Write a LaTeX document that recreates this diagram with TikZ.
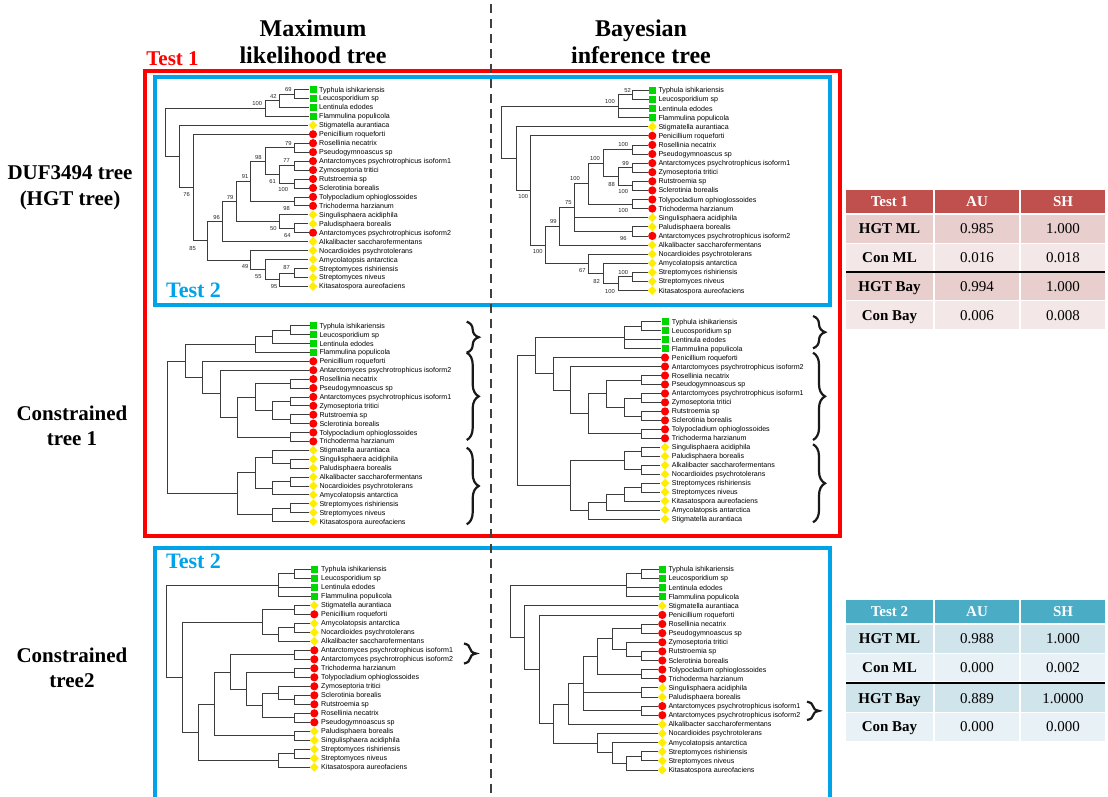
\documentclass[tikz,border=0pt]{standalone}
\usepackage{fontspec}
\setmainfont{Liberation Serif}
\newfontfamily\arialf{Liberation Sans}
\usetikzlibrary{shapes.geometric,decorations.pathreplacing}
\definecolor{tgreen}{RGB}{0,215,0}
\definecolor{tred}{RGB}{255,0,0}
\definecolor{tyellow}{RGB}{255,238,0}
\definecolor{bxred}{RGB}{255,0,0}
\definecolor{bxblue}{RGB}{0,162,232}
\definecolor{hdred}{RGB}{192,80,77}
\definecolor{rowra}{RGB}{232,206,205}
\definecolor{rowrb}{RGB}{243,231,231}
\definecolor{hdblue}{RGB}{75,172,198}
\definecolor{rowba}{RGB}{208,228,236}
\definecolor{rowbb}{RGB}{232,242,246}
\definecolor{brc}{RGB}{60,60,60}
\newcommand\mkX{0}
\newcommand\txX{0}
\newcommand\Lf[4]{\node[#3] (#1m) at (\mkX,#2) {};\coordinate (#1) at (#1m.west);\node[lbl] (#1t) at (\txX,#2) {#4};}
\newcommand\Nd[4]{\coordinate (#1) at (#2,#3);\foreach \ch in {#4}{\draw[br] (#1) |- (\ch);}}
\begin{document}
\begin{tikzpicture}[x=1pt,y=-1pt,
  br/.style={draw=brc, line width=0.75pt},
  lbl/.style={font=\arialf\fontsize{7.1}{8}\selectfont, anchor=base west, inner sep=0pt, yshift=-2.5pt, text=black},
  gsq/.style={rectangle, fill=tgreen, minimum size=7pt, inner sep=0pt},
  rdot/.style={circle, fill=tred, minimum size=8.2pt, inner sep=0pt},
  ydia/.style={diamond, aspect=1, fill=tyellow, minimum size=9pt, inner sep=0pt},
  bs/.style={font=\arialf\fontsize{5.8}{6}\selectfont, inner sep=0pt, text=black!85},
  cbrace/.style={decorate, decoration={brace, amplitude=12pt}, line width=2.2pt, draw=black!90},
  hdr/.style={font=\bfseries\fontsize{24}{26}\selectfont, inner sep=0pt, anchor=base},
  side/.style={font=\bfseries\fontsize{21}{23}\selectfont, inner sep=0pt, anchor=base},
  cell/.style={inner sep=0pt, text height=10pt, text depth=0pt, font=\fontsize{15}{17}\selectfont},
  hcell/.style={cell, font=\bfseries\fontsize{15}{17}\selectfont, text=white},
  bcell/.style={cell, font=\bfseries\fontsize{15}{17}\selectfont}
]
\useasboundingbox (0,0) rectangle (1108,796);
\clip (0,0) rectangle (1108,796);
\fill[white] (0,0) rectangle (1108,796);

% headers
\node[hdr] (hml1) at (313,36) {Maximum};
\node[hdr] (hml2) at (313,63) {likelihood tree};
\node[hdr] (hby1) at (641,36) {Bayesian};
\node[hdr] (hby2) at (641,63) {inference tree};
\node[side] (ls1) at (70,179) {DUF3494 tree};
\node[side] (ls2) at (70,205) {(HGT tree)};
\node[side] (ls3) at (72,420) {Constrained};
\node[side] (ls4) at (72,445) {tree 1};
\node[side] (ls5) at (72,662) {Constrained};
\node[side] (ls6) at (72,687) {tree2};

% boxes
\draw[bxred, line width=4pt] (145,71) rectangle (840,536);
\draw[bxblue, line width=4pt] (155,76.5) rectangle (830,305);
\draw[bxblue, line width=4pt] (155,548) rectangle (830,812);
\node[side, text=bxred] (t1) at (172.5,65) {Test 1};
\node[side, text=bxblue, font=\bfseries\fontsize{22}{24}\selectfont] (t2a) at (193.5,297) {Test 2};
\node[side, text=bxblue, font=\bfseries\fontsize{22}{24}\selectfont] (t2b) at (193.5,568) {Test 2};

% dashed divider
\draw[black!75, line width=1.4pt, dash pattern=on 9pt off 6pt] (491,4) -- (491,796);

% ---------- Tree A: ML DUF3494 ----------
\begin{scope}[y=-8.95pt, shift={(0pt,-89.5pt)}]
\renewcommand\mkX{313}\renewcommand\txX{319}
\Lf{a0}{0}{gsq}{Typhula ishikariensis}
\Lf{a1}{1}{gsq}{Leucosporidium sp}
\Lf{a2}{2}{gsq}{Lentinula edodes}
\Lf{a3}{3}{gsq}{Flammulina populicola}
\Lf{a4}{4}{ydia}{Stigmatella aurantiaca}
\Lf{a5}{5}{rdot}{Penicillium roqueforti}
\Lf{a6}{6}{rdot}{Rosellinia necatrix}
\Lf{a7}{7}{rdot}{Pseudogymnoascus sp}
\Lf{a8}{8}{rdot}{Antarctomyces psychrotrophicus isoform1}
\Lf{a9}{9}{rdot}{Zymoseptoria tritici}
\Lf{a10}{10}{rdot}{Rutstroemia sp}
\Lf{a11}{11}{rdot}{Sclerotinia borealis}
\Lf{a12}{12}{rdot}{Tolypocladium ophioglossoides}
\Lf{a13}{13}{rdot}{Trichoderma harzianum}
\Lf{a14}{14}{ydia}{Singulisphaera acidiphila}
\Lf{a15}{15}{ydia}{Paludisphaera borealis}
\Lf{a16}{16}{rdot}{Antarctomyces psychrotrophicus isoform2}
\Lf{a17}{17}{ydia}{Alkalibacter saccharofermentans}
\Lf{a18}{18}{ydia}{Nocardioides psychrotolerans}
\Lf{a19}{19}{ydia}{Amycolatopsis antarctica}
\Lf{a20}{20}{ydia}{Streptomyces rishiriensis}
\Lf{a21}{21}{ydia}{Streptomyces niveus}
\Lf{a22}{22}{ydia}{Kitasatospora aureofaciens}
\Nd{aA}{294}{0.5}{a0,a1}
\Nd{aB}{279.5}{1.25}{aA,a2}
\Nd{aF}{265}{2.125}{aB,a3}
\Nd{aC}{294}{6.5}{a6,a7}
\Nd{aD}{294}{8.5}{a8,a9}
\Nd{aE}{294}{10.5}{a10,a11}
\Nd{aG}{279.5}{9.5}{aD,aE}
\Nd{aH}{265}{8}{aC,aG}
\Nd{aI}{294}{12.5}{a12,a13}
\Nd{aJ}{250.7}{10.25}{aH,aI}
\Nd{aK}{294}{15.5}{a15,a16}
\Nd{aL}{279.5}{14.75}{a14,aK}
\Nd{aM}{236.5}{12.5}{aJ,aL}
\Nd{aN}{222}{14.75}{aM,a17}
\Nd{aO}{294}{20.5}{a20,a21}
\Nd{aP}{279.5}{21.25}{aO,a22}
\Nd{aQ}{265}{20.125}{a19,aP}
\Nd{aR}{250.7}{19.0625}{a18,aQ}
\Nd{aS}{207.8}{16.906}{aN,aR}
\Nd{aT}{193.5}{10.953}{a5,aS}
\Nd{aU}{179.3}{7.477}{a4,aT}
\Nd{aV}{165}{4.801}{aF,aU}
\end{scope}
\node[bs] (sa1) at (288.3,89.7) {69};
\node[bs] (sa2) at (273.3,96.3) {42};
\node[bs] (sa3) at (257.3,103) {100};
\node[bs] (sa4) at (288.3,143) {79};
\node[bs] (sa5) at (286.7,160.7) {77};
\node[bs] (sa6) at (258.3,157) {98};
\node[bs] (sa7) at (245,176.3) {91};
\node[bs] (sa8) at (272.7,181.3) {61};
\node[bs] (sa9) at (283.3,189) {100};
\node[bs] (sa10) at (186.7,194.3) {76};
\node[bs] (sa11) at (230,197.7) {79};
\node[bs] (sa12) at (286.7,208.3) {98};
\node[bs] (sa13) at (216.7,217.3) {96};
\node[bs] (sa14) at (273.3,228.3) {50};
\node[bs] (sa15) at (287.3,235.7) {64};
\node[bs] (sa16) at (192.7,248.3) {85};
\node[bs] (sa17) at (245,266.7) {49};
\node[bs] (sa18) at (258.3,276.7) {55};
\node[bs] (sa19) at (286.7,267.7) {87};
\node[bs] (sa20) at (274,286.7) {95};

% ---------- Tree B: Bayesian DUF3494 ----------
\begin{scope}[y=-9.1pt, shift={(0pt,-90.3pt)}]
\renewcommand\mkX{652.3}\renewcommand\txX{658.3}
\Lf{b0}{0}{gsq}{Typhula ishikariensis}
\Lf{b1}{1}{gsq}{Leucosporidium sp}
\Lf{b2}{2}{gsq}{Lentinula edodes}
\Lf{b3}{3}{gsq}{Flammulina populicola}
\Lf{b4}{4}{ydia}{Stigmatella aurantiaca}
\Lf{b5}{5}{rdot}{Penicillium roqueforti}
\Lf{b6}{6}{rdot}{Rosellinia necatrix}
\Lf{b7}{7}{rdot}{Pseudogymnoascus sp}
\Lf{b8}{8}{rdot}{Antarctomyces psychrotrophicus isoform1}
\Lf{b9}{9}{rdot}{Zymoseptoria tritici}
\Lf{b10}{10}{rdot}{Rutstroemia sp}
\Lf{b11}{11}{rdot}{Sclerotinia borealis}
\Lf{b12}{12}{rdot}{Tolypocladium ophioglossoides}
\Lf{b13}{13}{rdot}{Trichoderma harzianum}
\Lf{b14}{14}{ydia}{Singulisphaera acidiphila}
\Lf{b15}{15}{ydia}{Paludisphaera borealis}
\Lf{b16}{16}{rdot}{Antarctomyces psychrotrophicus isoform2}
\Lf{b17}{17}{ydia}{Alkalibacter saccharofermentans}
\Lf{b18}{18}{ydia}{Nocardioides psychrotolerans}
\Lf{b19}{19}{ydia}{Amycolatopsis antarctica}
\Lf{b20}{20}{ydia}{Streptomyces rishiriensis}
\Lf{b21}{21}{ydia}{Streptomyces niveus}
\Lf{b22}{22}{ydia}{Kitasatospora aureofaciens}
\Nd{bA}{632}{0.5}{b0,b1}
\Nd{bF}{618}{1.75}{bA,b2,b3}
\Nd{bC}{632}{6.5}{b6,b7}
\Nd{bD}{632}{8.5}{b8,b9}
\Nd{bE}{632}{10.5}{b10,b11}
\Nd{bG}{618}{9.5}{bD,bE}
\Nd{bH}{603.5}{8}{bC,bG}
\Nd{bI}{632}{12.5}{b12,b13}
\Nd{bJ}{588.5}{10.25}{bH,bI}
\Nd{bK}{632}{15.5}{b15,b16}
\Nd{bL}{574}{12.875}{bJ,b14,bK}
\Nd{bM}{559.5}{14.9375}{bL,b17}
\Nd{bO}{632}{20.5}{b20,b21}
\Nd{bP}{618}{21.25}{bO,b22}
\Nd{bQ}{603.5}{20.125}{b19,bP}
\Nd{bR}{588.5}{19.0625}{b18,bQ}
\Nd{bS}{545}{17}{bM,bR}
\Nd{bT}{530.5}{11}{b5,bS}
\Nd{bU}{516}{7.5}{b4,bT}
\Nd{bV}{501.5}{4.625}{bF,bU}
\end{scope}
\node[bs] (sb1) at (627.7,90.3) {52};
\node[bs] (sb2) at (610,101.3) {100};
\node[bs] (sb3) at (623.3,144.7) {100};
\node[bs] (sb4) at (595,158) {100};
\node[bs] (sb5) at (625.7,163) {99};
\node[bs] (sb6) at (575,178) {100};
\node[bs] (sb7) at (611.7,184) {88};
\node[bs] (sb8) at (623.3,191.7) {100};
\node[bs] (sb9) at (523.3,196.7) {100};
\node[bs] (sb10) at (623.3,210) {100};
\node[bs] (sb11) at (568.3,202.3) {75};
\node[bs] (sb12) at (553.3,221) {99};
\node[bs] (sb13) at (623.3,238.3) {96};
\node[bs] (sb14) at (537.7,251.7) {100};
\node[bs] (sb15) at (582.3,270) {67};
\node[bs] (sb16) at (623.3,272.3) {100};
\node[bs] (sb17) at (596.7,281) {82};
\node[bs] (sb18) at (610,291) {100};

% ---------- Tree C: Constrained tree 1, ML ----------
\begin{scope}[y=-8.9pt, shift={(0pt,-325.7pt)}]
\renewcommand\mkX{313.3}\renewcommand\txX{319.3}
\Lf{c0}{0}{gsq}{Typhula ishikariensis}
\Lf{c1}{1}{gsq}{Leucosporidium sp}
\Lf{c2}{2}{gsq}{Lentinula edodes}
\Lf{c3}{3}{gsq}{Flammulina populicola}
\Lf{c4}{4}{rdot}{Penicillium roqueforti}
\Lf{c5}{5}{rdot}{Antarctomyces psychrotrophicus isoform2}
\Lf{c6}{6}{rdot}{Rosellinia necatrix}
\Lf{c7}{7}{rdot}{Pseudogymnoascus sp}
\Lf{c8}{8}{rdot}{Antarctomyces psychrotrophicus isoform1}
\Lf{c9}{9}{rdot}{Zymoseptoria tritici}
\Lf{c10}{10}{rdot}{Rutstroemia sp}
\Lf{c11}{11}{rdot}{Sclerotinia borealis}
\Lf{c12}{12}{rdot}{Tolypocladium ophioglossoides}
\Lf{c13}{13}{rdot}{Trichoderma harzianum}
\Lf{c14}{14}{ydia}{Stigmatella aurantiaca}
\Lf{c15}{15}{ydia}{Singulisphaera acidiphila}
\Lf{c16}{16}{ydia}{Paludisphaera borealis}
\Lf{c17}{17}{ydia}{Alkalibacter saccharofermentans}
\Lf{c18}{18}{ydia}{Nocardioides psychrotolerans}
\Lf{c19}{19}{ydia}{Amycolatopsis antarctica}
\Lf{c20}{20}{ydia}{Streptomyces rishiriensis}
\Lf{c21}{21}{ydia}{Streptomyces niveus}
\Lf{c22}{22}{ydia}{Kitasatospora aureofaciens}
\Nd{cA}{290}{0.5}{c0,c1}
\Nd{cB}{272.5}{1.25}{cA,c2}
\Nd{cF}{255}{2.125}{cB,c3}
\Nd{cC}{290}{6.5}{c6,c7}
\Nd{cD}{290}{8.5}{c8,c9}
\Nd{cE}{290}{10.5}{c10,c11}
\Nd{cG}{272.5}{9.5}{cD,cE}
\Nd{cH}{255}{8}{cC,cG}
\Nd{cI}{290}{12.5}{c12,c13}
\Nd{cJ}{237.5}{10.25}{cH,cI}
\Nd{cK}{220}{7.625}{c5,cJ}
\Nd{cL}{202.5}{5.8125}{c4,cK}
\Nd{cM}{185}{3.96875}{cF,cL}
\Nd{cN}{290}{15.5}{c15,c16}
\Nd{cO}{272.5}{14.75}{c14,cN}
\Nd{cP}{290}{17.5}{c17,c18}
\Nd{cQ}{272.5}{18.25}{cP,c19}
\Nd{cR}{255}{16.5}{cO,cQ}
\Nd{cS}{290}{20.5}{c20,c21}
\Nd{cT}{272.5}{21.25}{cS,c22}
\Nd{cU}{237.5}{18.875}{cR,cT}
\Nd{cV}{167.5}{11.42}{cM,cU}
\end{scope}
\coordinate (cb1a) at (466.7,321.7); \coordinate (cb1b) at (466.7,352.7);
\coordinate (cb2a) at (466.7,352.7); \coordinate (cb2b) at (466.7,440);
\coordinate (cb3a) at (466.7,447.7); \coordinate (cb3b) at (466.7,524.3);
\draw[cbrace] (cb1a) -- (cb1b);
\draw[cbrace] (cb2a) -- (cb2b);
\draw[cbrace] (cb3a) -- (cb3b);

% ---------- Tree D: Constrained tree 1, Bayesian ----------
\begin{scope}[y=-8.97pt, shift={(0pt,-321.7pt)}]
\renewcommand\mkX{665}\renewcommand\txX{671.7}
\Lf{d0}{0}{gsq}{Typhula ishikariensis}
\Lf{d1}{1}{gsq}{Leucosporidium sp}
\Lf{d2}{2}{gsq}{Lentinula edodes}
\Lf{d3}{3}{gsq}{Flammulina populicola}
\Lf{d4}{4}{rdot}{Penicillium roqueforti}
\Lf{d5}{5}{rdot}{Antarctomyces psychrotrophicus isoform2}
\Lf{d6}{6}{rdot}{Rosellinia necatrix}
\Lf{d7}{7}{rdot}{Pseudogymnoascus sp}
\Lf{d8}{8}{rdot}{Antarctomyces psychrotrophicus isoform1}
\Lf{d9}{9}{rdot}{Zymoseptoria tritici}
\Lf{d10}{10}{rdot}{Rutstroemia sp}
\Lf{d11}{11}{rdot}{Sclerotinia borealis}
\Lf{d12}{12}{rdot}{Tolypocladium ophioglossoides}
\Lf{d13}{13}{rdot}{Trichoderma harzianum}
\Lf{d14}{14}{ydia}{Singulisphaera acidiphila}
\Lf{d15}{15}{ydia}{Paludisphaera borealis}
\Lf{d16}{16}{ydia}{Alkalibacter saccharofermentans}
\Lf{d17}{17}{ydia}{Nocardioides psychrotolerans}
\Lf{d18}{18}{ydia}{Streptomyces rishiriensis}
\Lf{d19}{19}{ydia}{Streptomyces niveus}
\Lf{d20}{20}{ydia}{Kitasatospora aureofaciens}
\Lf{d21}{21}{ydia}{Amycolatopsis antarctica}
\Lf{d22}{22}{ydia}{Stigmatella aurantiaca}
\Nd{dA}{641.7}{0.5}{d0,d1}
\Nd{dF}{624}{1.75}{dA,d2,d3}
\Nd{dC}{641.7}{6.5}{d6,d7}
\Nd{dD}{641.7}{8.5}{d8,d9}
\Nd{dE}{641.7}{10.5}{d10,d11}
\Nd{dG}{624}{9.5}{dD,dE}
\Nd{dH}{606.2}{8}{dC,dG}
\Nd{dI}{641.7}{12.5}{d12,d13}
\Nd{dJ}{588.5}{10.25}{dH,dI}
\Nd{dK}{570.7}{7.625}{d5,dJ}
\Nd{dL}{553}{5.8125}{d4,dK}
\Nd{dM}{535.2}{3.78}{dF,dL}
\Nd{dN}{641.7}{14.5}{d14,d15}
\Nd{dO}{641.7}{16.5}{d16,d17}
\Nd{dP}{624}{15.5}{dN,dO}
\Nd{dQ}{641.7}{18.5}{d18,d19}
\Nd{dR}{624}{19.25}{dQ,d20}
\Nd{dS}{606.2}{20.125}{dR,d21}
\Nd{dT}{588.5}{21.06}{dS,d22}
\Nd{dU}{570.7}{18.28}{dP,dT}
\Nd{dV}{517.5}{11.03}{dM,dU}
\end{scope}
\coordinate (db1a) at (813,316); \coordinate (db1b) at (813,348.3);
\coordinate (db2a) at (813,352.7); \coordinate (db2b) at (813,440);
\coordinate (db3a) at (813,444.3); \coordinate (db3b) at (813,522.3);
\draw[cbrace] (db1a) -- (db1b);
\draw[cbrace] (db2a) -- (db2b);
\draw[cbrace] (db3a) -- (db3b);

% ---------- Tree E: Constrained tree2, ML ----------
\begin{scope}[y=-9pt, shift={(0pt,-569.3pt)}]
\renewcommand\mkX{314.3}\renewcommand\txX{321}
\Lf{e0}{0}{gsq}{Typhula ishikariensis}
\Lf{e1}{1}{gsq}{Leucosporidium sp}
\Lf{e2}{2}{gsq}{Lentinula edodes}
\Lf{e3}{3}{gsq}{Flammulina populicola}
\Lf{e4}{4}{ydia}{Stigmatella aurantiaca}
\Lf{e5}{5}{rdot}{Penicillium roqueforti}
\Lf{e6}{6}{ydia}{Amycolatopsis antarctica}
\Lf{e7}{7}{ydia}{Nocardioides psychrotolerans}
\Lf{e8}{8}{ydia}{Alkalibacter saccharofermentans}
\Lf{e9}{9}{rdot}{Antarctomyces psychrotrophicus isoform1}
\Lf{e10}{10}{rdot}{Antarctomyces psychrotrophicus isoform2}
\Lf{e11}{11}{rdot}{Trichoderma harzianum}
\Lf{e12}{12}{rdot}{Tolypocladium ophioglossoides}
\Lf{e13}{13}{rdot}{Zymoseptoria tritici}
\Lf{e14}{14}{rdot}{Sclerotinia borealis}
\Lf{e15}{15}{rdot}{Rutstroemia sp}
\Lf{e16}{16}{rdot}{Rosellinia necatrix}
\Lf{e17}{17}{rdot}{Pseudogymnoascus sp}
\Lf{e18}{18}{ydia}{Paludisphaera borealis}
\Lf{e19}{19}{ydia}{Singulisphaera acidiphila}
\Lf{e20}{20}{ydia}{Streptomyces rishiriensis}
\Lf{e21}{21}{ydia}{Streptomyces niveus}
\Lf{e22}{22}{ydia}{Kitasatospora aureofaciens}
\Nd{eA}{294}{0.5}{e0,e1}
\Nd{eF}{278}{1.75}{eA,e2,e3}
\Nd{eB}{294}{4.5}{e4,e5}
\Nd{eC}{294}{6.5}{e6,e7}
\Nd{eD}{278}{7.25}{eC,e8}
\Nd{eX}{262}{5.875}{eB,eD}
\Nd{eG}{294}{9.5}{e9,e10}
\Nd{eH}{294}{11.5}{e11,e12}
\Nd{eI}{294}{14.5}{e14,e15}
\Nd{eJ}{278}{13.75}{e13,eI}
\Nd{eK}{294}{16.5}{e16,e17}
\Nd{eL}{262}{15.125}{eJ,eK}
\Nd{eM}{246}{13.3125}{eH,eL}
\Nd{eN}{230}{11.406}{eG,eM}
\Nd{eO}{294}{18.5}{e18,e19}
\Nd{eP}{214}{14.953}{eN,eO}
\Nd{eQ}{294}{20.5}{e20,e21}
\Nd{eR}{278}{21.25}{eQ,e22}
\Nd{eS}{198}{18.1}{eP,eR}
\Nd{eT}{182}{11.99}{eX,eS}
\Nd{eU}{166}{6.87}{eF,eT}
\end{scope}
\coordinate (eb1a) at (464,643.5); \coordinate (eb1b) at (464,663.5);
\draw[cbrace] (eb1a) -- (eb1b);

% ---------- Tree F: Constrained tree2, Bayesian ----------
\begin{scope}[y=-9.12pt, shift={(0pt,-569.3pt)}]
\renewcommand\mkX{662.3}\renewcommand\txX{668.3}
\Lf{f0}{0}{gsq}{Typhula ishikariensis}
\Lf{f1}{1}{gsq}{Leucosporidium sp}
\Lf{f2}{2}{gsq}{Lentinula edodes}
\Lf{f3}{3}{gsq}{Flammulina populicola}
\Lf{f4}{4}{ydia}{Stigmatella aurantiaca}
\Lf{f5}{5}{rdot}{Penicillium roqueforti}
\Lf{f6}{6}{rdot}{Rosellinia necatrix}
\Lf{f7}{7}{rdot}{Pseudogymnoascus sp}
\Lf{f8}{8}{rdot}{Zymoseptoria tritici}
\Lf{f9}{9}{rdot}{Rutstroemia sp}
\Lf{f10}{10}{rdot}{Sclerotinia borealis}
\Lf{f11}{11}{rdot}{Tolypocladium ophioglossoides}
\Lf{f12}{12}{rdot}{Trichoderma harzianum}
\Lf{f13}{13}{ydia}{Singulisphaera acidiphila}
\Lf{f14}{14}{ydia}{Paludisphaera borealis}
\Lf{f15}{15}{rdot}{Antarctomyces psychrotrophicus isoform1}
\Lf{f16}{16}{rdot}{Antarctomyces psychrotrophicus isoform2}
\Lf{f17}{17}{ydia}{Alkalibacter saccharofermentans}
\Lf{f18}{18}{ydia}{Nocardioides psychrotolerans}
\Lf{f19}{19}{ydia}{Amycolatopsis antarctica}
\Lf{f20}{20}{ydia}{Streptomyces rishiriensis}
\Lf{f21}{21}{ydia}{Streptomyces niveus}
\Lf{f22}{22}{ydia}{Kitasatospora aureofaciens}
\Nd{fA}{641.4}{0.5}{f0,f1}
\Nd{fF}{626.8}{1.75}{fA,f2,f3}
\Nd{fC}{641.4}{6.5}{f6,f7}
\Nd{fD}{641.4}{9.5}{f9,f10}
\Nd{fG}{626.8}{8.75}{f8,fD}
\Nd{fH}{612.2}{7.625}{fC,fG}
\Nd{fI}{641.4}{11.5}{f11,f12}
\Nd{fJ}{597.6}{9.5625}{fH,fI}
\Nd{fK}{641.4}{13.5}{f13,f14}
\Nd{fL}{641.4}{15.5}{f15,f16}
\Nd{fM}{583}{12.53}{fJ,fK,fL}
\Nd{fN}{568.4}{14.77}{fM,f17}
\Nd{fO}{641.4}{20.5}{f20,f21}
\Nd{fP}{626.8}{21.25}{fO,f22}
\Nd{fQ}{612.2}{20.125}{f19,fP}
\Nd{fR}{597.6}{19.06}{f18,fQ}
\Nd{fS}{553.8}{16.91}{fN,fR}
\Nd{fT}{539.2}{10.96}{f5,fS}
\Nd{fU}{524.6}{7.48}{f4,fT}
\Nd{fV}{510}{4.61}{fF,fU}
\end{scope}
\coordinate (fb1a) at (807,701.7); \coordinate (fb1b) at (807,720);
\draw[cbrace] (fb1a) -- (fb1b);

% ---------- Table Test 1 ----------
\node[hcell, fill=hdred, minimum width=87pt, minimum height=23pt] (ta00) at (889.5,201.5) {Test 1};
\node[hcell, fill=hdred, minimum width=84pt, minimum height=23pt] (ta01) at (977,201.5) {AU};
\node[hcell, fill=hdred, minimum width=84pt, minimum height=23pt] (ta02) at (1063,201.5) {SH};
\node[bcell, fill=rowra, minimum width=87pt, minimum height=27.5pt] (ta10) at (889.5,228.8) {HGT ML};
\node[cell, fill=rowra, minimum width=84pt, minimum height=27.5pt] (ta11) at (977,228.8) {0.985};
\node[cell, fill=rowra, minimum width=84pt, minimum height=27.5pt] (ta12) at (1063,228.8) {1.000};
\node[bcell, fill=rowrb, minimum width=87pt, minimum height=27.5pt] (ta20) at (889.5,257.5) {Con ML};
\node[cell, fill=rowrb, minimum width=84pt, minimum height=27.5pt] (ta21) at (977,257.5) {0.016};
\node[cell, fill=rowrb, minimum width=84pt, minimum height=27.5pt] (ta22) at (1063,257.5) {0.018};
\node[bcell, fill=rowra, minimum width=87pt, minimum height=27.5pt] (ta30) at (889.5,286.5) {HGT Bay};
\node[cell, fill=rowra, minimum width=84pt, minimum height=27.5pt] (ta31) at (977,286.5) {0.994};
\node[cell, fill=rowra, minimum width=84pt, minimum height=27.5pt] (ta32) at (1063,286.5) {1.000};
\node[bcell, fill=rowrb, minimum width=87pt, minimum height=27.5pt] (ta40) at (889.5,315) {Con Bay};
\node[cell, fill=rowrb, minimum width=84pt, minimum height=27.5pt] (ta41) at (977,315) {0.006};
\node[cell, fill=rowrb, minimum width=84pt, minimum height=27.5pt] (ta42) at (1063,315) {0.008};
\draw[black, line width=2pt] (846,272) -- (1105,272);

% ---------- Table Test 2 ----------
\node[hcell, fill=hdblue, minimum width=87pt, minimum height=23pt] (tb00) at (889.5,611.5) {Test 2};
\node[hcell, fill=hdblue, minimum width=84pt, minimum height=23pt] (tb01) at (977,611.5) {AU};
\node[hcell, fill=hdblue, minimum width=84pt, minimum height=23pt] (tb02) at (1063,611.5) {SH};
\node[bcell, fill=rowba, minimum width=87pt, minimum height=27.5pt] (tb10) at (889.5,638.8) {HGT ML};
\node[cell, fill=rowba, minimum width=84pt, minimum height=27.5pt] (tb11) at (977,638.8) {0.988};
\node[cell, fill=rowba, minimum width=84pt, minimum height=27.5pt] (tb12) at (1063,638.8) {1.000};
\node[bcell, fill=rowbb, minimum width=87pt, minimum height=27.5pt] (tb20) at (889.5,667.5) {Con ML};
\node[cell, fill=rowbb, minimum width=84pt, minimum height=27.5pt] (tb21) at (977,667.5) {0.000};
\node[cell, fill=rowbb, minimum width=84pt, minimum height=27.5pt] (tb22) at (1063,667.5) {0.002};
\node[bcell, fill=rowba, minimum width=87pt, minimum height=27.5pt] (tb30) at (889.5,698) {HGT Bay};
\node[cell, fill=rowba, minimum width=84pt, minimum height=27.5pt] (tb31) at (977,698) {0.889};
\node[cell, fill=rowba, minimum width=84pt, minimum height=27.5pt] (tb32) at (1063,698) {1.0000};
\node[bcell, fill=rowbb, minimum width=87pt, minimum height=27.5pt] (tb40) at (889.5,726.8) {Con Bay};
\node[cell, fill=rowbb, minimum width=84pt, minimum height=27.5pt] (tb41) at (977,726.8) {0.000};
\node[cell, fill=rowbb, minimum width=84pt, minimum height=27.5pt] (tb42) at (1063,726.8) {0.000};
\draw[black, line width=2pt] (846,682.5) -- (1105,682.5);
\end{tikzpicture}
\end{document}
